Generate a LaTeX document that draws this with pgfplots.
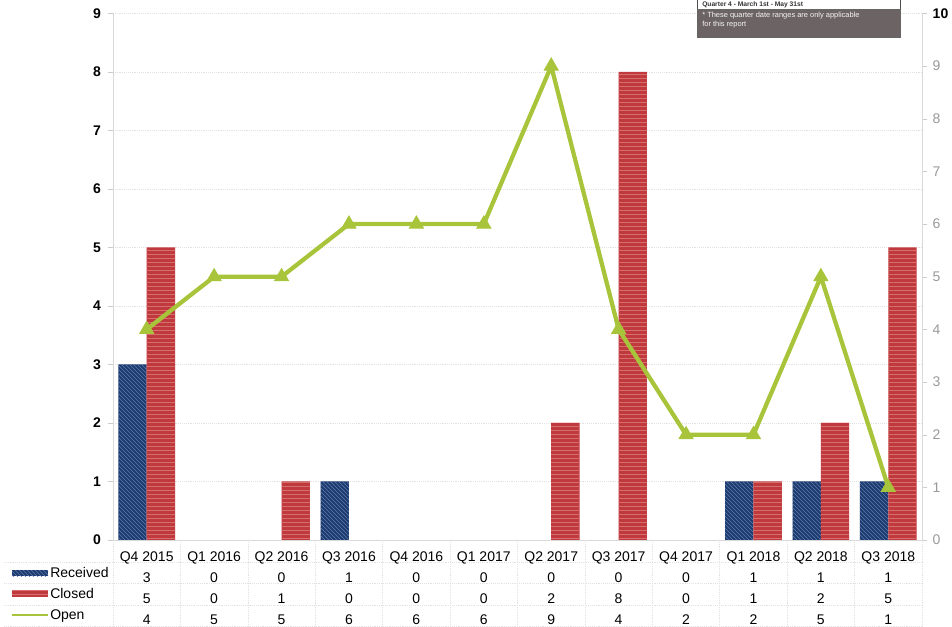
\documentclass[border=0pt]{standalone}
\usepackage{fontspec}
\setmainfont{Liberation Sans}
\usepackage{pgfplots}
\usepackage{pgfplotstable}
\pgfplotsset{compat=1.18}
\usetikzlibrary{patterns}

\definecolor{recblue}{HTML}{1F3B6E}
\definecolor{rechatch}{HTML}{5A7AB2}
\definecolor{clored}{HTML}{C0393D}
\definecolor{clohatch}{HTML}{D66E70}
\definecolor{opengreen}{HTML}{A8C43A}
\definecolor{gridgray}{HTML}{E2E2E2}
\definecolor{notegray}{HTML}{6C6464}

% Quarterly complaint figures
\pgfplotstableread[col sep=comma]{
q,rec,clo,open
Q4 2015,3,5,4
Q1 2016,0,0,5
Q2 2016,0,1,5
Q3 2016,1,0,6
Q4 2016,0,0,6
Q1 2017,0,0,6
Q2 2017,0,2,9
Q3 2017,0,8,4
Q4 2017,0,0,2
Q1 2018,1,1,2
Q2 2018,1,2,5
Q3 2018,1,5,1
}\quarterly

\begin{document}
\begin{tikzpicture}[x=1pt,y=1pt]
\useasboundingbox (0,0) rectangle (714,470.25);

% table grid (drawn first, underneath everything)
\foreach \k in {0,...,12}{
  \draw[gridgray, densely dotted] (84.75+\k*50.5625,65.25) -- (84.75+\k*50.5625,0);
}
\foreach \yy in {48.75,33,16.5,0.5}{
  \draw[gridgray, densely dotted] (3,\yy) -- (691.5,\yy);
}

% ---- bars on the left scale, data table as tick labels ----
\begin{axis}[
  at={(84.75pt,65.25pt)}, anchor=south west,
  scale only axis, width=606.75pt, height=394.9pt,
  xmin=-0.5, xmax=11.5, ymin=0, ymax=9,
  xtick={0,...,11}, ytick={0,...,9},
  axis y line*=left, axis x line*=bottom,
  axis line style={gray!30,-},
  ymajorgrids, grid style={gridgray, densely dotted},
  xtick style={draw=none},
  ytick style={gray!40},
  tick align=outside, major tick length=4pt,
  /pgf/number format/assume math mode=true,
  yticklabel style={font=\bfseries\fontsize{10.5}{12}\selectfont, xshift=-1.5pt},
  xticklabel={%
    \pgfplotstablegetelem{\ticknum}{q}\of\quarterly\global\let\tlq\pgfplotsretval
    \pgfplotstablegetelem{\ticknum}{rec}\of\quarterly\global\let\tlr\pgfplotsretval
    \pgfplotstablegetelem{\ticknum}{clo}\of\quarterly\global\let\tlc\pgfplotsretval
    \pgfplotstablegetelem{\ticknum}{open}\of\quarterly\global\let\tlo\pgfplotsretval
    \tlq\\\tlr\\\tlc\\\tlo},
  xticklabel style={anchor=north, inner sep=0pt, yshift=-4.5pt, align=center,
    font=\fontsize{10.5}{15.75}\selectfont},
  restrict y to domain=0.5:20,
]
\addplot[ybar, bar width=0.42, bar shift=-0.21, draw=none, fill=recblue,
  postaction={pattern=north west lines, pattern color=rechatch}]
  table[x expr=\coordindex, y=rec] {\quarterly};
\addplot[ybar, bar width=0.42, bar shift=0.21, draw=none, fill=clored,
  postaction={pattern=horizontal lines, pattern color=clohatch}]
  table[x expr=\coordindex, y=clo] {\quarterly};
\end{axis}

% ---- open cases on the right scale ----
\begin{axis}[
  at={(84.75pt,65.25pt)}, anchor=south west,
  scale only axis, width=606.75pt, height=394.9pt,
  xmin=-0.5, xmax=11.5, ymin=0, ymax=10,
  ytick={0,...,10},
  axis y line*=right, axis x line=none,
  axis line style={gray!30,-},
  ytick style={gray!40},
  tick align=outside, major tick length=4pt,
  /pgf/number format/assume math mode=true,
  yticklabel={\ifnum\ticknum=10 \textbf{10}\else\textcolor{gray!80}{\pgfmathprintnumber{\tick}}\fi},
  yticklabel style={font=\fontsize{10.5}{12}\selectfont, xshift=0.5pt},
]
\addplot[opengreen, line width=3.2pt, mark=triangle*, mark size=6.2pt,
  mark options={solid, line width=0.5pt}]
  table[x expr=\coordindex, y=open] {\quarterly};
\end{axis}

% ---- row headers of the data table ----
\fill[recblue] (9,38.2) rectangle (36,42.7);
\fill[pattern=north west lines, pattern color=rechatch] (9,38.2) rectangle (36,42.7);
\fill[clored] (9,22.5) rectangle (36,27);
\fill[pattern=horizontal lines, pattern color=clohatch] (9,22.5) rectangle (36,27);
\draw[opengreen, line width=2.2pt] (9,9) -- (36,9);
\begin{scope}[font=\fontsize{10.5}{12}\selectfont]
\node[anchor=base west, inner sep=0pt] at (37.5,36.75) {Received};
\node[anchor=base west, inner sep=0pt] at (37.5,21) {Closed};
\node[anchor=base west, inner sep=0pt] at (37.5,5.25) {Open};
\end{scope}

% ---- note box ----
\fill[white] (522.75,463.5) rectangle (675,470.25);
\draw[black!70, line width=0.6pt] (522.75,463.5) -- (522.75,470.25)
  (675,463.5) -- (675,470.25);
\node[anchor=base west, inner sep=0pt, font=\bfseries\fontsize{5}{6}\selectfont, text=black!80]
  at (526.5,465) {Quarter 4 - March 1st - May 31st};
\fill[notegray] (522.75,442.5) rectangle (675,463.5);
\draw[black!60, line width=0.5pt] (522.75,442.5) rectangle (675,463.5);
\node[anchor=north west, inner sep=0pt, align=left, text=white!92!gray,
  font=\fontsize{5.6}{7.2}\selectfont] at (526.5,461.5)
  {* These quarter date ranges are only applicable\\for this report};
\end{tikzpicture}
\end{document}
